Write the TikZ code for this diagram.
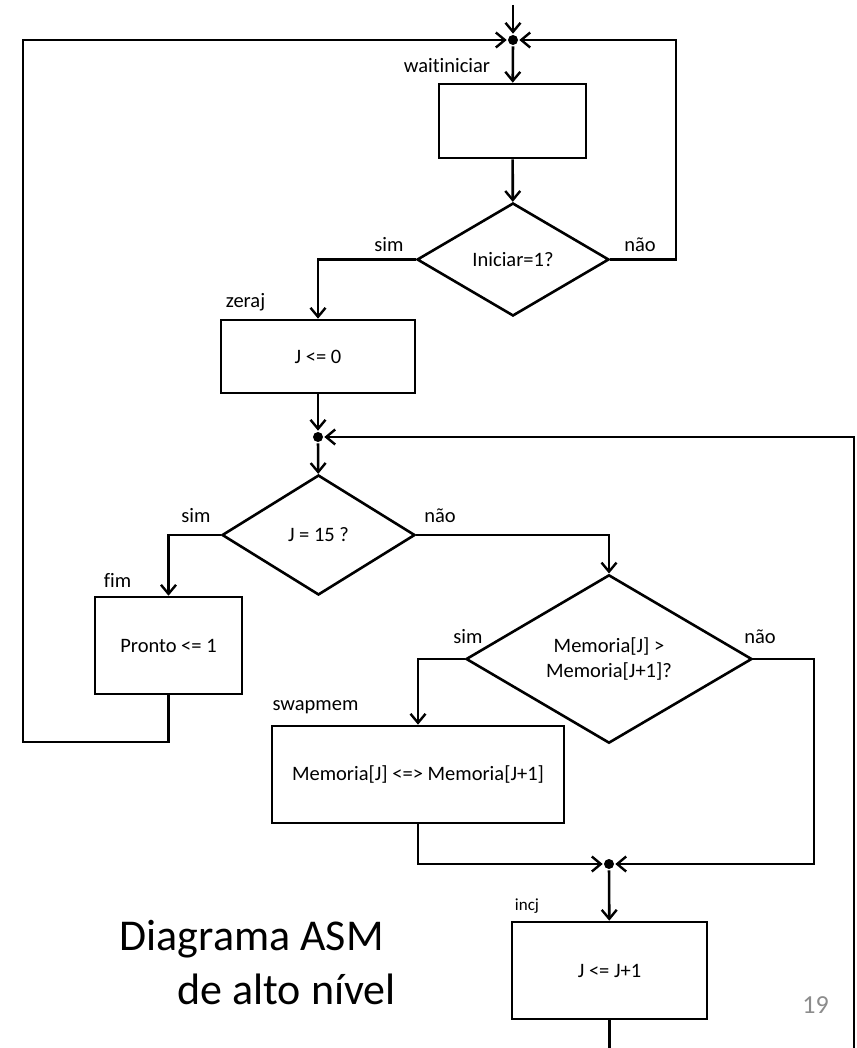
\documentclass[tikz,border=0pt]{standalone}
\usepackage{fontspec}
\setmainfont{Carlito}[Ligatures={NoCommon}]
\usetikzlibrary{arrows.meta,shapes.geometric}
\begin{document}
\begin{tikzpicture}[x=1pt,y=-1pt,
  line width=2.6pt,
  flow/.style={-{Straight Barb[length=9pt,width=15pt,line width=2.4pt]}},
  stbox/.style={draw, rectangle, inner sep=0pt, font=\fontsize{20.5}{24}\selectfont},
  decision/.style={draw, diamond, inner sep=0pt, align=center,
    font=\fontsize{20.5}{25}\selectfont},
  jdot/.style={circle, fill, inner sep=0pt, minimum size=10pt},
  lbl/.style={inner sep=0pt, font=\fontsize{20.5}{24}\selectfont},
  title/.style={inner sep=0pt, font=\fontsize{44}{52}\selectfont},
]
\useasboundingbox (0,0) rectangle (856,1048);

% states and decisions
\node[jdot] (dot1) at (513,40) {};
\node[stbox, minimum width=147pt, minimum height=74pt] (wait) at (512.5,121) {};
\node[decision, minimum width=192pt, minimum height=113pt] (d1) at (513,259.5) {Iniciar=1?};
\node[stbox, minimum width=194pt, minimum height=73pt] (zeraj) at (318,356.5) {J <= 0};
\node[jdot] (dot2) at (318,437) {};
\node[decision, minimum width=193pt, minimum height=120pt] (d2) at (318.5,535) {J = 15 ?};
\node[stbox, minimum width=147pt, minimum height=97pt] (fim) at (168.5,645.5) {Pronto <= 1};
\node[decision, minimum width=286pt, minimum height=122pt] (d3) at (609,659) {Memoria[J] >\\Memoria[J+1]?};
\node[stbox, minimum width=292pt, minimum height=97pt] (swap) at (418,774.5) {Memoria[J] <=> Memoria[J+1]};
\node[jdot] (dot3) at (609,864) {};
\node[stbox, minimum width=195pt, minimum height=97pt] (incj) at (609.5,970.5) {J <= J+1};

% state names
\node[lbl] (lwait) at (447,66) {waitiniciar};
\node[lbl] (lzeraj) at (245.5,302) {zeraj};
\node[lbl] (lfim) at (117.5,580) {fim};
\node[lbl] (lswap) at (315.5,707) {swapmem};
\node[lbl, font=\fontsize{17}{20}\selectfont] (lincj) at (527,906) {incj};

% branch labels
\node[lbl] (s1) at (389,245) {sim};
\node[lbl] (n1) at (640,245) {não};
\node[lbl] (s2) at (196,516) {sim};
\node[lbl] (n2) at (440,516) {não};
\node[lbl] (s3) at (468,637) {sim};
\node[lbl] (n3) at (760,637) {não};

% loose ends and bends
\coordinate (entry) at (513,5);
\coordinate (rloop) at (676,0);
\coordinate (lloop) at (23,742);
\coordinate (rbot) at (854,1048);
\coordinate (rmid) at (814,0);

% connectors
\draw[flow] (entry) -- (dot1);
\draw[flow] (dot1) -- (wait);
\draw[flow] (wait) -- (d1);
\draw[flow] (d1.west) -| (zeraj);
\draw[flow] (d1.east) -- (d1.east -| rloop) |- (dot1);
\draw[flow] (zeraj) -- (dot2);
\draw[flow] (dot2) -- (d2);
\draw[flow] (rbot) |- (dot2);
\draw[flow] (d2.west) -| (fim);
\draw[flow] (fim.south) |- (lloop) |- (dot1);
\draw[flow] (d2.east) -| (d3);
\draw[flow] (d3.west) -| (swap);
\draw[flow] (d3.east) -- (d3.east -| rmid) |- (dot3);
\draw[flow] (swap.south) |- (dot3);
\draw[flow] (dot3) -- (incj);
\draw (incj.south) -- (incj.south |- rbot);

% caption and page number
\node[title, anchor=base east] (cap1) at (385,950) {Diagrama ASM};
\node[title, anchor=base east] (cap2) at (397,1004) {de alto nível};
\node[inner sep=0pt, text=black!45, font=\fontsize{26}{30}\selectfont] (pg) at (815.5,1005.5) {19};
\end{tikzpicture}
\end{document}
